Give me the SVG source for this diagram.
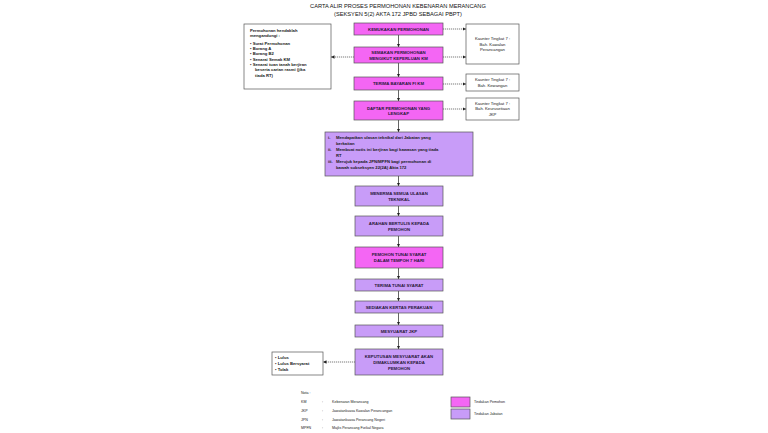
<svg xmlns="http://www.w3.org/2000/svg" width="768" height="433" viewBox="0 0 768 433">
<defs>
<marker id="ah" viewBox="0 0 6 6" refX="6" refY="3" markerWidth="3.5" markerHeight="3.5" orient="auto" markerUnits="userSpaceOnUse"><path d="M0,0 L6,3 L0,6 z" fill="#222"/></marker>
<style>
text{font-family:"Liberation Sans",Arial,sans-serif;fill:#222}
.t{font-size:5.7px;text-anchor:middle;fill:#111}
.b{font-size:4.3px;font-weight:bold;text-anchor:middle;fill:#2a1a3a}
.s{font-size:4.2px}
.sb{font-size:4.2px;font-weight:bold;fill:#1a1a1a}
.sc{font-size:4.2px;text-anchor:middle}
.l{font-size:3.6px}
.p{fill:#f466f4;stroke:#555;stroke-width:0.7}
.j{fill:#c89cf8;stroke:#555;stroke-width:0.7}
.w{fill:#fff;stroke:#555;stroke-width:0.7}
.c{stroke:#222;stroke-width:0.7;fill:none;marker-end:url(#ah)}
.d{stroke:#222;stroke-width:0.6;fill:none;stroke-dasharray:1.2,0.8;marker-end:url(#ah)}
</style>
</defs>
<rect width="768" height="433" fill="#fff"/>
<g id="title">
<text class="t" x="398" y="8">CARTA ALIR PROSES PERMOHONAN KEBENARAN MERANCANG</text>
<text class="t" x="398" y="15.5">(SEKSYEN 5(2) AKTA 172 JPBD SEBAGAI PBPT)</text>
</g>
<g id="connectors">
<line class="c" x1="398.5" y1="35" x2="398.5" y2="47"/>
<line class="c" x1="398.5" y1="63" x2="398.5" y2="77"/>
<line class="c" x1="398.5" y1="90" x2="398.5" y2="101"/>
<line class="c" x1="398.5" y1="120" x2="398.5" y2="132"/>
<line class="c" x1="398.5" y1="176" x2="398.5" y2="186"/>
<line class="c" x1="398.5" y1="206" x2="398.5" y2="216"/>
<line class="c" x1="398.5" y1="236" x2="398.5" y2="247"/>
<line class="c" x1="398.5" y1="268" x2="398.5" y2="279"/>
<line class="c" x1="398.5" y1="291" x2="398.5" y2="301"/>
<line class="c" x1="398.5" y1="313" x2="398.5" y2="325"/>
<line class="c" x1="398.5" y1="337" x2="398.5" y2="349"/>
<line class="d" x1="443" y1="29" x2="466" y2="29"/>
<line class="d" x1="443" y1="57" x2="466" y2="57"/>
<line class="d" x1="443" y1="84" x2="466" y2="84"/>
<line class="d" x1="443" y1="109" x2="466" y2="109"/>
<line class="d" x1="354" y1="57" x2="331" y2="57"/>
<line class="d" x1="355" y1="362" x2="323" y2="362"/>
</g>
<g id="left-note">
<rect class="w" x="244" y="24" width="87" height="65"/>
<text class="sb" x="250" y="31.5">Permohonan hendaklah</text>
<text class="sb" x="250" y="37.2">mengandungi :</text>
<text class="sb" x="250" y="44.5">•  Surat Permohonan</text>
<text class="sb" x="250" y="49.8">•  Borang A</text>
<text class="sb" x="250" y="55.2">•  Borang B2</text>
<text class="sb" x="250" y="60.5">•  Senarai Semak KM</text>
<text class="sb" x="250" y="65.8">•  Senarai tuan tanah berjiran</text>
<text class="sb" x="255" y="71.2">beserta carian rasmi (jika</text>
<text class="sb" x="255" y="76.5">tiada RT)</text>
</g>
<g id="n1"><rect class="p" x="354" y="23" width="89" height="12"/><text class="b" x="398.5" y="30.5">KEMUKAKAN PERMOHONAN</text></g>
<g id="n2"><rect class="p" x="354" y="47" width="89" height="16"/><text class="b" x="398.5" y="54">SEMAKAN PERMOHONAN</text><text class="b" x="398.5" y="59.5">MENGIKUT KEPERLUAN KM</text></g>
<g id="n3"><rect class="p" x="354" y="77" width="89" height="13"/><text class="b" x="398.5" y="85">TERIMA BAYARAN FI KM</text></g>
<g id="n4"><rect class="p" x="354" y="101" width="89" height="19"/><text class="b" x="398.5" y="109.5">DAFTAR PERMOHONAN YANG</text><text class="b" x="398.5" y="115.3">LENGKAP</text></g>
<g id="r1"><rect class="w" x="466" y="24" width="53" height="40"/><text class="sc" x="492.5" y="40">Kaunter Tingkat 7 :</text><text class="sc" x="492.5" y="45.5">Bah. Kawalan</text><text class="sc" x="492.5" y="51">Perancangan</text></g>
<g id="r2"><rect class="w" x="466" y="74" width="53" height="17"/><text class="sc" x="492.5" y="81">Kaunter Tingkat 7 :</text><text class="sc" x="492.5" y="86.5">Bah. Kewangan</text></g>
<g id="r3"><rect class="w" x="466" y="98" width="53" height="22"/><text class="sc" x="492.5" y="104.8">Kaunter Tingkat 7 :</text><text class="sc" x="492.5" y="110.3">Bah. Keurusetiaan</text><text class="sc" x="492.5" y="115.8">JKP</text></g>
<g id="n5"><rect class="j" x="325" y="132" width="148" height="44"/>
<text class="sb" x="328" y="138.5">i.</text><text class="sb" x="336" y="138.5">Mendapatkan ulasan teknikal dari Jabatan yang</text>
<text class="sb" x="336" y="144.5">berkaitan</text>
<text class="sb" x="328" y="150.7">ii.</text><text class="sb" x="336" y="150.7">Membuat notis ini berjiran bagi kawasan yang tiada</text>
<text class="sb" x="336" y="156.7">RT</text>
<text class="sb" x="328" y="163">iii.</text><text class="sb" x="336" y="163">Merujuk kepada JPN/MPFN bagi permohonan di</text>
<text class="sb" x="336" y="169">bawah subseksyen 22(2A) Akta 172</text>
</g>
<g id="n6"><rect class="j" x="355" y="186" width="88" height="20"/><text class="b" x="399" y="194.8">MENERMA SEMUA ULASAN</text><text class="b" x="399" y="200.8">TEKNIKAL</text></g>
<g id="n7"><rect class="j" x="355" y="216" width="88" height="20"/><text class="b" x="399" y="224.8">ARAHAN BERTULIS KEPADA</text><text class="b" x="399" y="230.8">PEMOHON</text></g>
<g id="n8"><rect class="p" x="355" y="247" width="88" height="21"/><text class="b" x="399" y="255.5">PEMOHON TUNAI SYARAT</text><text class="b" x="399" y="261.5">DALAM TEMPOH 7 HARI</text></g>
<g id="n9"><rect class="j" x="355" y="279" width="88" height="12"/><text class="b" x="399" y="286.5">TERIMA TUNAI SYARAT</text></g>
<g id="n10"><rect class="j" x="355" y="301" width="88" height="12"/><text class="b" x="399" y="308.5">SEDIAKAN KERTAS PERAKUAN</text></g>
<g id="n11"><rect class="j" x="355" y="325" width="88" height="12"/><text class="b" x="399" y="332.5">MESYUARAT JKP</text></g>
<g id="n12"><rect class="j" x="355" y="349" width="88" height="26"/><text class="b" x="399" y="357.5">KEPUTUSAN MESYUARAT AKAN</text><text class="b" x="399" y="363.5">DIMAKLUMKAN KEPADA</text><text class="b" x="399" y="369.5">PEMOHON</text></g>
<g id="result"><rect class="w" x="272" y="352" width="51" height="23"/>
<text class="sb" x="275" y="358.5">•  Lulus</text><text class="sb" x="275" y="364.5">•  Lulus Bersyarat</text><text class="sb" x="275" y="370.5">•  Tolak</text></g>
<g id="legend">
<text class="l" x="301" y="393.5">Nota :</text>
<text class="l" x="301" y="402.5">KM</text><text class="l" x="322" y="402.5">:</text><text class="l" x="332" y="402.5">Kebenaran Merancang</text>
<text class="l" x="301" y="411.5">JKP</text><text class="l" x="322" y="411.5">:</text><text class="l" x="332" y="411.5">Jawatankuasa Kawalan Perancangan</text>
<text class="l" x="301" y="420.5">JPN</text><text class="l" x="322" y="420.5">:</text><text class="l" x="332" y="420.5">Jawatankuasa Perancang Negeri</text>
<text class="l" x="301" y="429.3">MPFN</text><text class="l" x="322" y="429.3">:</text><text class="l" x="332" y="429.3">Majlis Perancang Fizikal Negara</text>
<rect class="p" x="451" y="397" width="19" height="10"/><text class="l" x="474" y="403.3">Tindakan Pemohon</text>
<rect class="j" x="451" y="409" width="19" height="10"/><text class="l" x="474" y="415.3">Tindakan Jabatan</text>
</g>
</svg>
